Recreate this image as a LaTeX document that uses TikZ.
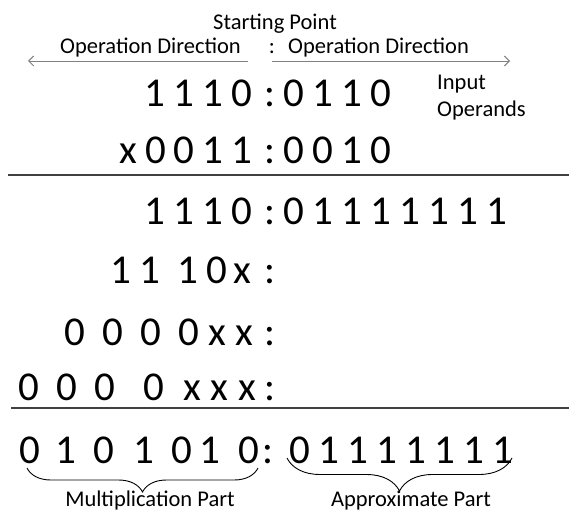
\documentclass[tikz,border=0pt]{standalone}
\usepackage{fontspec}
\setmainfont{Carlito}
\usetikzlibrary{arrows.meta,decorations.pathreplacing}

\tikzset{
  bit/.style={anchor=base, inner sep=0pt, font=\fontsize{41}{41}\selectfont},
  tag/.style={inner sep=0pt, font=\fontsize{22.5}{27}\selectfont},
  dirarrow/.style={draw=gray, line width=0.9pt, -{Straight Barb[length=5pt,width=10pt]}},
  sumrule/.style={draw=black!75, line width=2pt},
  partbrace/.style={draw, line width=0.9pt, decorate, decoration={brace, mirror, amplitude=#1}}
}

\begin{document}
\begin{tikzpicture}[x=1pt, y=-1pt]
    \useasboundingbox (0,0) rectangle (569,513);
    % header
    \node[tag, anchor=base] (start) at (275,30) {Starting Point};
    \node[tag, anchor=base east] (dirL) at (241,54) {Operation Direction};
    \node[tag, anchor=base] (sep) at (272,54) {:};
    \node[tag, anchor=base west] (dirR) at (288,54) {Operation Direction};
    \coordinate (arrL) at (248,61); \coordinate (endL) at (28,61);
    \coordinate (arrR) at (272,61); \coordinate (endR) at (510,61);
    \draw[dirarrow] (arrL) -- (endL);
    \draw[dirarrow] (arrR) -- (endR);
    \node[tag, anchor=base west] (inp) at (437,90) {Input};
    \node[tag, anchor=base west] (opd) at (437,117) {Operands};
    % operands
    \foreach \ch/\x [count=\k] in {1/155,1/184,1/213,0/242,:/270,0/294,1/323,1/352,0/381}
        \node[bit] (a\k) at (\x,107) {\ch};
    \foreach \ch/\x [count=\k] in {x/128,0/156,0/184,1/213,1/242,:/270,0/294,0/323,1/352,0/381}
        \node[bit] (b\k) at (\x,164) {\ch};
    \draw[sumrule] (8,175) -- (569,175);
    % partial products
    \foreach \ch/\x [count=\k] in {1/155,1/184,1/213,0/242,:/270,0/294,1/323,1/352,1/381,1/410,1/439,1/468,1/497}
        \node[bit] (c\k) at (\x,224) {\ch};
    \foreach \ch/\x [count=\k] in {1/121,1/150,1/188,0/217,x/242,:/270}
        \node[bit] (d\k) at (\x,283) {\ch};
    \foreach \ch/\x [count=\k] in {0/75,0/113,0/151,0/189,x/217,x/244,:/270}
        \node[bit] (e\k) at (\x,345) {\ch};
    \foreach \ch/\x [count=\k] in {0/29,0/67,0/105,0/154,x/192,x/219,x/247,:/270}
        \node[bit] (f\k) at (\x,400) {\ch};
    \draw[sumrule] (11,408) -- (569,408);
    % result
    \foreach \ch/\x [count=\k] in {0/30,1/66,0/104,1/144,0/182,1/210,0/249,:/268,0/300,1/329,1/358,1/387,1/416,1/445,1/474,1/503}
        \node[bit] (g\k) at (\x,463) {\ch};
    \coordinate (mulL) at (27,468); \coordinate (mulR) at (258,468);
    \coordinate (appL) at (287,458); \coordinate (appR) at (512,458);
    \draw[partbrace=24] (mulL) -- (mulR);
    \draw[partbrace=33] (appL) -- (appR);
    \node[tag, anchor=base] (mulpart) at (150,506) {Multiplication Part};
    \node[tag, anchor=base] (apppart) at (411,506) {Approximate Part};
\end{tikzpicture}
\end{document}
